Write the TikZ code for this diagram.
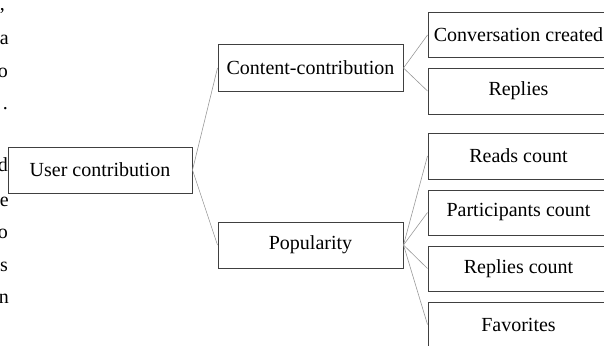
\documentclass[tikz,border=0pt]{standalone}
\usepackage{fontspec}
\setmainfont{Liberation Serif}
\begin{document}
\begin{tikzpicture}[x=1pt,y=1pt,
  box/.style={draw=black!75, line width=1pt, inner sep=0pt, align=center,
    font=\fontsize{20}{24}\selectfont},
  lbox/.style={box, minimum width=181pt, minimum height=45pt},
  mbox/.style={box, minimum width=185pt, minimum height=46pt},
  link/.style={draw=black!40, line width=0.6pt},
  frag/.style={anchor=base east, inner sep=0pt, font=\fontsize{20}{24}\selectfont}]
\clip (0,0) rectangle (604,-345);
\useasboundingbox (0,0) rectangle (604,-345);
% cropped text fragments at left edge
\node[frag] (f1) at (5,-11) {,};
\node[frag] (f2) at (9,-45) {a};
\node[frag] (f3) at (8,-77) {o};
\node[frag] (f4) at (8,-109) {.};
\node[frag] (f5) at (8,-171) {d};
\node[frag] (f6) at (9,-206) {e};
\node[frag] (f7) at (8,-238) {o};
\node[frag] (f8) at (8,-271) {s};
\node[frag] (f9) at (9,-303) {n};
% nodes
\node[box, minimum width=184pt, minimum height=46pt] (user) at (100,-170) {User contribution};
\node[mbox] (content) at (310.5,-68) {Content-contribution};
\node[mbox] (pop) at (310.5,-245) {Popularity};
\node[lbox, minimum height=44pt] (conv) at (518.5,-35) {Conversation created};
\node[lbox, minimum height=46pt] (rep) at (518.5,-91) {Replies};
\node[lbox, minimum height=46pt] (reads) at (518.5,-156) {Reads count};
\node[lbox] (part) at (518.5,-212.5) {Participants count};
\node[lbox] (repc) at (518.5,-268.5) {Replies count};
\node[lbox] (fav) at (518.5,-324.5) {Favorites};
% connectors
\draw[link] (user.east) -- (content.west);
\draw[link] (user.east) -- (pop.west);
\draw[link] (content.east) -- (conv.west);
\draw[link] (content.east) -- (rep.west);
\draw[link] (pop.east) -- (reads.west);
\draw[link] (pop.east) -- (part.west);
\draw[link] (pop.east) -- (repc.west);
\draw[link] (pop.east) -- (fav.west);
\end{tikzpicture}
\end{document}
